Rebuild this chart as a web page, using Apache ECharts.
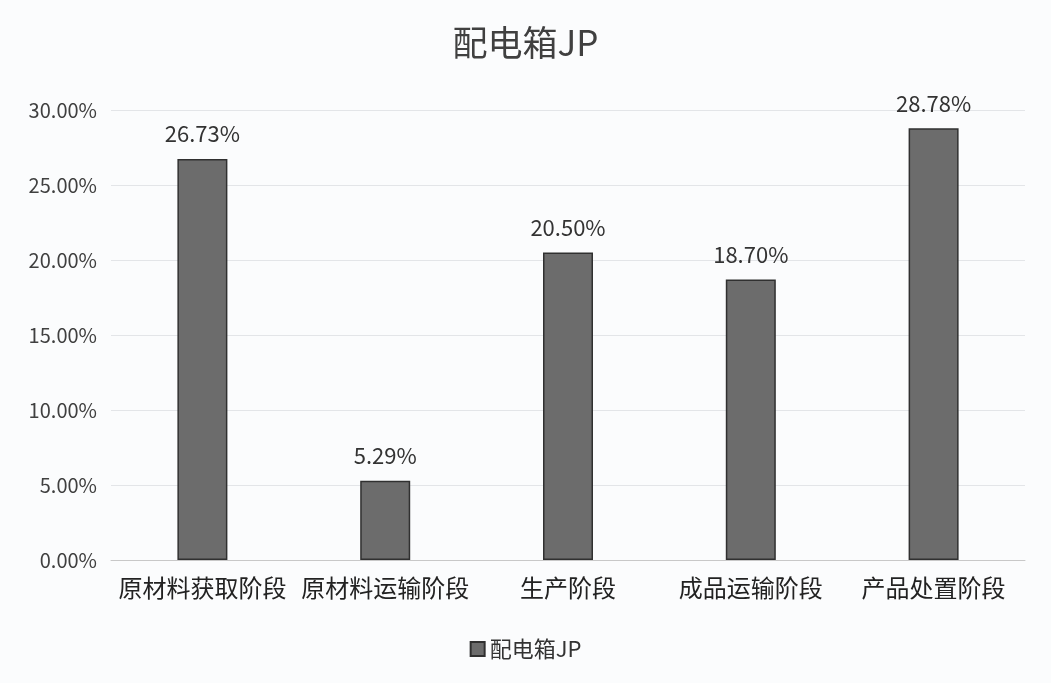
<!DOCTYPE html>
<html>
<head>
<meta charset="utf-8">
<script src="https://cdn.jsdelivr.net/npm/echarts@6/dist/echarts.min.js"></script>
<style>
  html, body { margin: 0; padding: 0; background: #fbfcfd; }
  #chart { width: 1051px; height: 683px; }
</style>
</head>
<body>
<div id="chart"></div>
<script>
// 数据
const categories = ['原材料获取阶段', '原材料运输阶段', '生产阶段', '成品运输阶段', '产品处置阶段']
const values = [26.73, 5.29, 20.50, 18.70, 28.78]
const seriesName = '配电箱JP'

const myChart = echarts.init(document.getElementById('chart'))
const font = '"Noto Sans CJK SC", "Noto Sans", sans-serif'

const option = {
  backgroundColor: '#fbfcfd',
  title: {
    text: seriesName,
    left: 'center',
    top: 20,
    textStyle: { fontSize: 35, fontWeight: 'normal', color: '#404040', fontFamily: font }
  },
  legend: {
    data: [seriesName],
    bottom: 18,
    left: 'center',
    icon: 'rect',
    itemWidth: 14,
    itemHeight: 14,
    itemGap: 8,
    textStyle: { fontSize: 22, color: '#333', fontFamily: font }
  },
  grid: {
    left: 111,
    right: 26,
    top: 110,
    bottom: 123
  },
  xAxis: {
    type: 'category',
    data: categories,
    axisLine: { lineStyle: { color: '#c8c8c8' } },
    axisTick: { show: false },
    axisLabel: { interval: 0, hideOverlap: false, fontSize: 24, color: '#222', margin: 16, fontFamily: font }
  },
  yAxis: {
    type: 'value',
    min: 0,
    max: 30,
    interval: 5,
    axisLine: { show: false },
    axisTick: { show: false },
    splitLine: { lineStyle: { color: '#e3e5e8' } },
    axisLabel: {
      fontSize: 20,
      color: '#404040',
      margin: 14,
      fontFamily: font,
      formatter: v => v.toFixed(2) + '%'
    }
  },
  series: [
    {
      name: seriesName,
      type: 'bar',
      data: values,
      barWidth: 50,
      itemStyle: { color: '#6c6c6c', borderColor: '#303030', borderWidth: 1.5 },
      label: {
        show: true,
        position: 'top',
        distance: 14,
        fontSize: 22,
        color: '#333',
        fontFamily: font,
        formatter: p => p.value.toFixed(2) + '%'
      }
    }
  ]
}
myChart.setOption(option)
</script>
</body>
</html>
